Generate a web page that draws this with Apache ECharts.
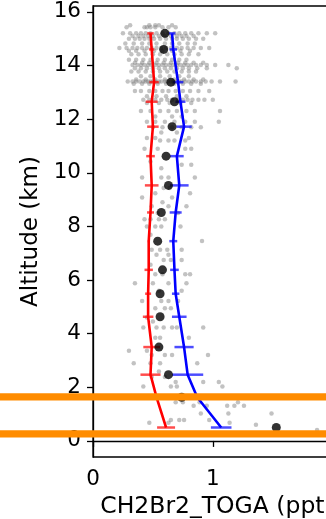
<!DOCTYPE html>
<html>
<head>
<meta charset="utf-8">
<script src="https://cdn.jsdelivr.net/npm/echarts@6/dist/echarts.min.js"></script>
<style>
html,body{margin:0;padding:0;background:#fff;}
#c{width:326px;height:519px;}
</style>
</head>
<body>
<div id="c"></div>
<script>
// ---- data ----
var levels   = [0.5, 1.63, 2.47, 3.5, 4.63, 5.49, 6.38, 7.45, 8.52, 9.53, 10.62, 11.72, 12.65, 13.38, 14.6, 15.2];
var meanVals = [1.53, 0.74, 0.63, 0.55, 0.56, 0.56, 0.58, 0.54, 0.57, 0.63, 0.61, 0.66, 0.68, 0.65, 0.59, 0.60];
var redVals  = [0.61, 0.53, 0.48, 0.49, 0.46, 0.46, 0.465, 0.465, 0.48, 0.49, 0.48, 0.50, 0.49, 0.51, 0.49, 0.48];
var redErr   = [0.075, 0.06, 0.084, 0.07, 0.044, 0.025, 0.035, 0.008, 0.029, 0.057, 0.036, 0.048, 0.05, 0.039, 0.022, 0.027];
var blueVals = [1.07, 0.87, 0.79, 0.76, 0.72, 0.69, 0.68, 0.67, 0.69, 0.72, 0.70, 0.76, 0.73, 0.71, 0.67, 0.66];
var blueErr  = [0.086, 0.08, 0.13, 0.08, 0.061, 0.031, 0.036, 0.033, 0.05, 0.078, 0.057, 0.064, 0.042, 0.044, 0.031, 0.028];
var orangeAlts = [1.64, 0.26];
var yTicks = [0, 2, 4, 6, 8, 10, 12, 14, 16];
var xTicks = [0, 1, 2];

// scatter observations, grouped by altitude: [altitude, [values...]]
var obsRows = [
  [15.5, [0.31, 0.47, 0.52, 0.55, 0.66]],
  [15.43, [0.28, 0.43, 0.45, 0.48, 0.52, 0.58, 0.63, 0.69]],
  [15.2, [0.25, 0.31, 0.36, 0.40, 0.44, 0.48, 0.53, 0.58, 0.63, 0.68, 0.72, 0.77, 0.82, 0.88, 0.95, 1.02]],
  [15.1, [0.33, 0.38, 0.42, 0.46, 0.50, 0.55, 0.60, 0.65, 0.70, 0.74, 0.78, 0.84]],
  [15.0, [0.30, 0.35, 0.39, 0.43, 0.47, 0.51, 0.56, 0.61, 0.66, 0.70, 0.75, 0.80, 0.86, 0.92]],
  [14.82, [0.27, 0.34, 0.41, 0.47, 0.53, 0.60, 0.66, 0.72, 0.79, 0.85]],
  [14.65, [0.22, 0.28, 0.33, 0.37, 0.41, 0.45, 0.49, 0.53, 0.57, 0.61, 0.65, 0.70, 0.74, 0.79, 0.84, 0.90, 0.97]],
  [14.55, [0.30, 0.36, 0.43, 0.51, 0.58, 0.66, 0.73, 0.81]],
  [14.42, [0.32, 0.38, 0.44, 0.50, 0.56, 0.62, 0.68, 0.74, 0.80, 0.88]],
  [14.22, [0.30, 0.36, 0.42, 0.48, 0.54, 0.60, 0.66, 0.72, 0.78]],
  [14.1, [0.35, 0.41, 0.47, 0.53, 0.59, 0.65, 0.71, 0.77, 0.84, 0.92]],
  [14.02, [0.33, 0.37, 0.40, 0.43, 0.46, 0.49, 0.52, 0.55, 0.58, 0.61, 0.64, 0.67, 0.70, 0.73, 0.76, 0.79, 0.82, 0.86, 0.90, 0.95, 1.02, 1.13]],
  [13.9, [0.35, 0.40, 0.45, 0.50, 0.55, 0.60, 0.65, 0.70, 0.75, 0.80, 0.87, 0.95, 1.2]],
  [13.78, [0.32, 0.38, 0.44, 0.50, 0.56, 0.62, 0.68, 0.74, 0.80, 0.86]],
  [13.6, [0.40, 0.48, 0.56, 0.64, 0.72, 0.80]],
  [13.48, [0.36, 0.44, 0.52, 0.60, 0.68, 0.76, 0.84, 0.92]],
  [13.4, [0.29, 0.33, 0.36, 0.39, 0.42, 0.44, 0.46, 0.48, 0.50, 0.52, 0.55, 0.57, 0.60, 0.62, 0.65, 0.67, 0.70, 0.72, 0.74, 0.77, 0.80, 0.83, 0.86, 0.90, 0.94, 0.99, 1.06, 1.19]],
  [13.32, [0.34, 0.41, 0.47, 0.54, 0.61, 0.68, 0.75, 0.82, 0.90]],
  [13.05, [0.35, 0.40, 0.47, 0.52, 0.58, 0.63, 0.69, 0.75, 0.81, 0.88, 0.97]],
  [12.85, [0.45, 0.53, 0.61, 0.70, 0.78]],
  [12.72, [0.42, 0.47, 0.52, 0.57, 0.62, 0.66, 0.71, 0.75, 0.79, 0.83, 0.88, 0.93, 1.0]],
  [12.6, [0.45, 0.55, 0.64, 0.73, 0.82]],
  [12.3, [0.40, 0.48, 0.56, 0.63, 0.70, 0.78, 0.85, 1.06]],
  [12.1, [0.52, 0.66, 0.74]],
  [11.9, [0.45, 0.52, 0.60, 0.68, 0.77, 0.85, 1.05]],
  [11.7, [0.50, 0.58, 0.66, 0.74, 0.82, 0.90]],
  [11.5, [0.57, 0.70]],
  [11.3, [0.45, 0.52, 0.80]],
  [11.2, [0.56, 0.63, 0.68, 0.77]],
  [10.9, [0.43, 0.54, 0.77, 0.82]],
  [10.42, [0.48]],
  [10.3, [0.74, 0.82]],
  [10.17, [0.57]],
  [9.82, [0.41, 0.57, 0.63, 0.85]],
  [9.43, [0.59, 0.64]],
  [9.24, [0.52, 0.81]],
  [9.08, [0.41, 0.66]],
  [8.9, [0.58]],
  [8.75, [0.49, 0.63, 0.78]],
  [8.5, [0.54, 0.71]],
  [8.27, [0.43, 0.48, 0.55, 0.60]],
  [8.0, [0.45, 0.52, 0.57, 0.73]],
  [7.69, [0.48]],
  [7.46, [0.91]],
  [7.13, [0.49, 0.56, 0.62, 0.74]],
  [6.94, [0.53, 0.63]],
  [6.75, [0.59, 0.65, 0.74]],
  [6.57, [0.48]],
  [6.22, [0.52, 0.58, 0.77, 0.81]],
  [5.88, [0.35, 0.50, 0.63, 0.78]],
  [5.6, [0.55, 0.74]],
  [5.22, [0.41, 0.57, 0.63, 0.71]],
  [4.95, [0.52, 0.60, 0.65]],
  [4.6, [0.45]],
  [4.45, [0.50]],
  [4.23, [0.42, 0.53, 0.59, 0.66, 0.70, 0.92]],
  [3.85, [0.52, 0.56, 0.80]],
  [3.36, [0.30, 0.45]],
  [3.2, [0.49, 0.60, 0.66, 0.96]],
  [2.9, [0.34, 0.48, 0.56, 0.87]],
  [2.59, [0.55]],
  [2.38, [0.49, 0.60]],
  [2.2, [0.69, 0.92, 1.05]],
  [2.03, [0.42, 0.65, 0.70, 1.08]],
  [1.44, [0.69, 0.75, 0.89, 1.21]],
  [1.31, [0.84, 0.95, 1.12, 1.18, 1.26]],
  [1.02, [0.90, 1.13, 1.49]],
  [0.78, [0.65, 0.72, 0.76, 0.97]],
  [0.68, [0.47, 0.63, 1.14]],
  [0.6, [1.36]],
  [0.41, [1.87]]
];

// ---- build ----
var obs = [];
obsRows.forEach(function (r) { r[1].forEach(function (v) { obs.push([v, r[0]]); }); });
function pairs(vals) { return vals.map(function (v, i) { return [v, levels[i]]; }); }
function errData(vals, errs) { return vals.map(function (v, i) { return [v, levels[i], errs[i]]; }); }

function errRender(color) {
  return function (params, api) {
    var x = api.value(0), y = api.value(1), e = api.value(2);
    var p1 = api.coord([x - e, y]);
    var p2 = api.coord([x + e, y]);
    return {
      type: 'line',
      shape: { x1: p1[0], y1: p1[1], x2: p2[0], y2: p2[1] },
      style: { stroke: color, lineWidth: 2.5 }
    };
  };
}

var chart = echarts.init(document.getElementById('c'), null, { renderer: 'canvas' });
var font = 'DejaVu Sans';
var option = {
  animation: false,
  backgroundColor: '#fff',
  grid: { left: 93, top: 6, width: 248, height: 451, containLabel: false, outerBoundsMode: 'none', show: true, borderColor: '#000', borderWidth: 1.3, backgroundColor: 'transparent' },
  xAxis: {
    type: 'value', min: 0, max: 2.07,
    name: 'CH2Br2_TOGA (ppt)', nameLocation: 'middle', nameGap: 36,
    nameTextStyle: { fontFamily: font, fontSize: 23.5, color: '#000' },
    axisLine: { show: true, lineStyle: { color: '#000', width: 1.3 } },
    axisTick: { show: true, inside: false, length: 6, lineStyle: { color: '#000', width: 1.3 }, customValues: xTicks },
    axisLabel: { fontFamily: font, fontSize: 21.5, color: '#000', margin: 11, customValues: xTicks, showMaxLabel: true },
    splitLine: { show: false }
  },
  yAxis: {
    type: 'value', min: -0.6, max: 16.22,
    name: 'Altitude (km)', nameLocation: 'middle', nameGap: 47, nameRotate: 90,
    nameTextStyle: { fontFamily: font, fontSize: 23, color: '#000' },
    axisLine: { show: true, lineStyle: { color: '#000', width: 1.3 } },
    axisTick: { show: true, inside: false, length: 6, lineStyle: { color: '#000', width: 1.3 }, customValues: yTicks },
    axisLabel: { fontFamily: font, fontSize: 21.5, color: '#000', margin: 12, customValues: yTicks },
    splitLine: { show: false }
  },
  series: [
    { type: 'scatter', data: obs, symbolSize: 4.5, itemStyle: { color: 'rgba(128,128,128,0.6)' }, z: 1, silent: true },
    { type: 'custom', data: errData(redVals, redErr), renderItem: errRender('rgba(255,0,0,0.7)'), z: 2, silent: true },
    { type: 'custom', data: errData(blueVals, blueErr), renderItem: errRender('rgba(0,0,255,0.7)'), z: 2, silent: true },
    { type: 'line', data: pairs(redVals), showSymbol: false, lineStyle: { color: '#ff0000', width: 2.6 }, z: 3, silent: true },
    { type: 'line', data: pairs(blueVals), showSymbol: false, lineStyle: { color: '#0000ff', width: 2.6 }, z: 3, silent: true },
    { type: 'scatter', data: pairs(meanVals), symbolSize: 9, itemStyle: { color: '#000' }, z: 4, silent: true }
  ]
};
chart.setOption(option);

var W = chart.getWidth();
var gfx = orangeAlts.map(function (a) {
  var py = chart.convertToPixel({ gridIndex: 0 }, [0, a])[1];
  return { type: 'line', z: 100, shape: { x1: 0, y1: py, x2: W, y2: py }, style: { stroke: '#ff8c00', lineWidth: 7.3 } };
});
chart.setOption({ graphic: gfx });
</script>
</body>
</html>
